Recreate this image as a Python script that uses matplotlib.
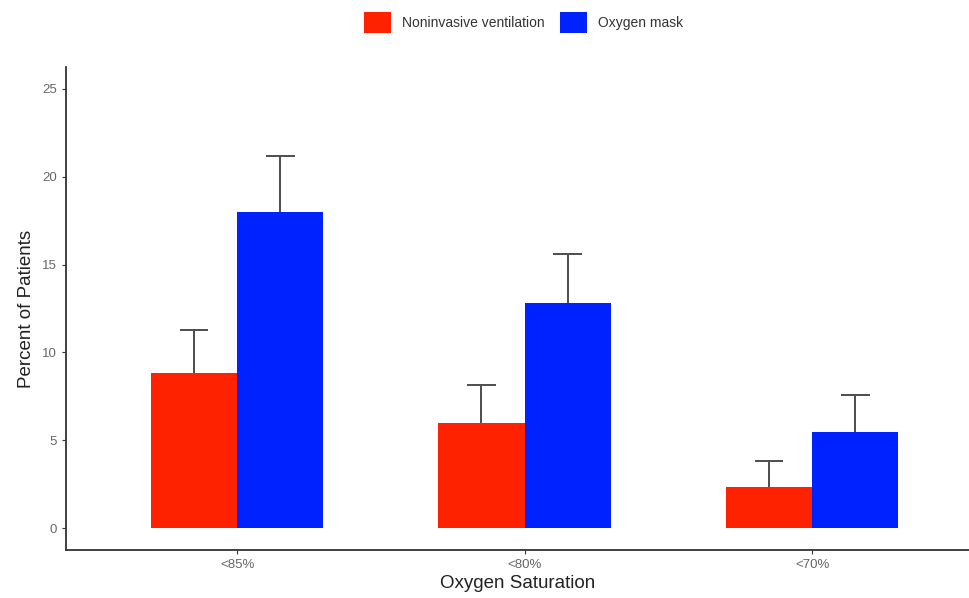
import numpy as np
import matplotlib.pyplot as plt

plt.rcParams['font.family'] = ['Liberation Sans', 'DejaVu Sans']

categories = ["<85%", "<80%", "<70%"]
niv = [8.85, 6.0, 2.35]
niv_err = [2.45, 2.15, 1.45]
mask = [18.0, 12.8, 5.45]
mask_err = [3.2, 2.8, 2.1]

red = "#ff2200"
blue = "#0022ff"
grey = "#4d4d4d"

fig = plt.figure(figsize=(9.69, 5.98), dpi=100)
ax = fig.add_axes([0.0681, 0.0803, 0.932, 0.8077])

x = np.arange(1, len(categories) + 1)
w = 0.3
cap = 0.05

# upper error bars only (stem + top cap), behind the bars
for xs, vals, errs in [(x - w / 2, niv, niv_err), (x + w / 2, mask, mask_err)]:
    tops = np.array(vals) + np.array(errs)
    ax.vlines(xs, vals, tops, color=grey, lw=1.4, zorder=1)
    ax.hlines(tops, xs - cap, xs + cap, color=grey, lw=1.4, zorder=1)

ax.bar(x - w / 2, niv, w, color=red, label="Noninvasive ventilation", zorder=2)
ax.bar(x + w / 2, mask, w, color=blue, label="Oxygen mask", zorder=2)

ax.set_xlim(0.405, 3.546)
ax.set_ylim(-1.25, 26.25)
ax.set_xticks(x)
ax.set_xticklabels(categories)
ax.set_yticks([0, 5, 10, 15, 20, 25])

for s in ["top", "right"]:
    ax.spines[s].set_visible(False)
for s in ["left", "bottom"]:
    ax.spines[s].set_color("#333333")
    ax.spines[s].set_linewidth(1.3)

ax.tick_params(colors="#333333", labelcolor="#666666", labelsize=9.5, length=3, width=0.8)
ax.set_xlabel("Oxygen Saturation", fontsize=13.5, color="#222222", labelpad=3)
ax.set_ylabel("Percent of Patients", fontsize=13.5, color="#222222", labelpad=5)

leg = fig.legend(loc="center", bbox_to_anchor=(0.540, 0.963), ncol=2, frameon=False,
                 fontsize=10, handlelength=1.95, handleheight=1.95, columnspacing=1.1,
                 handletextpad=0.8, borderaxespad=0)
for t in leg.get_texts():
    t.set_color("#333333")

plt.savefig("out.png", dpi=100)
